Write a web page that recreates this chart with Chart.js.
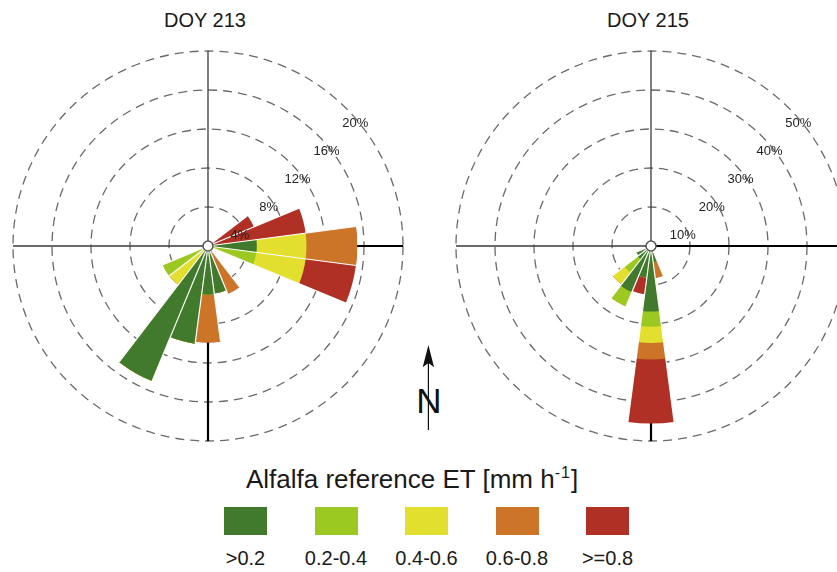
<!DOCTYPE html>
<html>
<head>
<meta charset="utf-8">
<script src="https://cdn.jsdelivr.net/npm/chart.js@4.4.1/dist/chart.umd.min.js"></script>
<style>
html, body { margin:0; padding:0; background:#fff; width:837px; height:572px; overflow:hidden; }
body { position:relative; font-family:"Liberation Sans", Arial, sans-serif; color:#1a1a1a; }
.wrap { position:absolute; top:46px; width:400px; height:400px; }
.title { position:absolute; top:10px; width:200px; font-size:20px; line-height:20px; text-align:center; }
#ltitle { position:absolute; left:212px; top:466px; width:400px; text-align:center; font-size:26px; line-height:26px; white-space:nowrap; }
#ltitle sup { font-size:16px; line-height:0; vertical-align:10px; letter-spacing:1px; }
.lbox { position:absolute; top:507px; width:43px; height:28px; }
.llab { position:absolute; top:548px; width:100px; text-align:center; font-size:20px; line-height:20px; white-space:nowrap; }
</style>
</head>
<body>
<div class="title" style="left:105px">DOY 213</div>
<div class="title" style="left:548px">DOY 215</div>
<div class="wrap" style="left:8px"><canvas id="rose213" width="400" height="400"></canvas></div>
<div class="wrap" style="left:451px"><canvas id="rose215" width="400" height="400"></canvas></div>
<svg style="position:absolute;left:410px;top:340px" width="40" height="95" viewBox="0 0 40 95">
  <text x="18.8" y="72.7" font-family="Liberation Sans, Arial, sans-serif" font-size="35" text-anchor="middle" fill="#111">N</text>
  <line x1="18.4" y1="22" x2="18.4" y2="90" stroke="#111" stroke-width="1.2"/>
  <polygon points="18.4,5 12.7,27.3 18.4,23 24.1,27.3" fill="#111"/>
</svg>
<div id="ltitle">Alfalfa reference ET [mm h<sup>-1</sup>]</div>
<div id="legend"></div>

<script>
// ---- data ----
const directions = ['0°','15°','30°','45°','60°','75°','90°','105°','120°','135°','150°','165°',
                    '180°','195°','210°','225°','240°','255°','270°','285°','300°','315°','330°','345°'];
const classes = ['>0.2', '0.2-0.4', '0.4-0.6', '0.6-0.8', '>=0.8'];

// DOY 213, percent of time per wind direction and ET class
const doy213_c1 = [0,0,0,0,0,0, 5.0,0,0,0,0,4.9, 5.0,10.1,15.0,0,0,0, 0,0,0,0,0,0];
const doy213_c2 = [0,0,0,0,0,0, 0,5.0,0,0,0,0, 0,0,0,0,5.0,0, 0,0,0,0,0,0];
const doy213_c3 = [0,0,0,0,0,0, 5.1,5.1,0,0,0,0, 0,0,0,5.0,0,0, 0,0,0,0,0,0];
const doy213_c4 = [0,0,0,0,0,0, 5.2,0,0,0,5.3,0, 4.9,0,0,0,0,0, 0,0,0,0,0,0];
const doy213_c5 = [0,0,0,0,5.1,10.1, 0,5.2,0,0,0,0, 0,0,0,0,0,0, 0,0,0,0,0,0];

// DOY 215
const doy215_c1 = [0,0,0,0,0,0, 0,0,0,0,0,4.2, 16.8,8.2,12.8,4.3,4.0,0, 0,0,0,0,0,0];
const doy215_c2 = [0,0,0,0,0,0, 0,0,0,0,0,0, 3.9,0,3.9,4.3,0,0, 0,0,0,0,0,0];
const doy215_c3 = [0,0,0,0,0,0, 0,0,0,0,0,0, 4.2,0,0,3.8,0,0, 0,0,0,0,0,0];
const doy215_c4 = [0,0,0,0,0,0, 0,0,0,0,0,4.0, 4.2,0,0,0,0,0, 0,0,0,0,0,0];
const doy215_c5 = [0,0,0,0,0,0, 0,0,0,0,0,0, 16.4,4.3,0,0,0,0, 0,0,0,0,0,0];

const ticks213 = [4, 8, 12, 16, 20];
const ticks215 = [10, 20, 30, 40, 50];

// ---- styles ----
const palette = ['#417a2c', '#9cc822', '#e2df2e', '#cc7427', '#b03026'];

const roseDecor = {
  id: 'roseDecor',
  beforeDatasetsDraw(chart) {
    const s = chart.scales.r, ctx = chart.ctx;
    const cx = s.xCenter, cy = s.yCenter, R = s.getDistanceFromCenterForValue(s.max);
    ctx.save();
    ctx.lineCap = 'butt';
    ctx.strokeStyle = '#3c3c3c'; ctx.lineWidth = 1.3;
    ctx.beginPath(); ctx.moveTo(cx, cy); ctx.lineTo(cx, cy - R); ctx.moveTo(cx, cy); ctx.lineTo(cx - R, cy); ctx.stroke();
    ctx.strokeStyle = '#000'; ctx.lineWidth = 2.2;
    ctx.beginPath(); ctx.moveTo(cx, cy); ctx.lineTo(cx + R, cy); ctx.moveTo(cx, cy); ctx.lineTo(cx, cy + R); ctx.stroke();
    ctx.restore();
  },
  afterDatasetsDraw(chart) {
    const s = chart.scales.r, ctx = chart.ctx;
    const cx = s.xCenter, cy = s.yCenter;
    ctx.save();
    // white separators between neighbouring direction wedges
    const outer = chart.getDatasetMeta(chart.data.datasets.length - 1).data;
    ctx.strokeStyle = '#ffffff'; ctx.lineWidth = 1.2;
    outer.forEach((arc, i) => {
      const prev = outer[(i - 1 + outer.length) % outer.length];
      const len = Math.max(arc.outerRadius, prev.outerRadius);
      if (len <= 0) return;
      ctx.beginPath();
      ctx.moveTo(cx, cy);
      ctx.lineTo(cx + Math.cos(arc.startAngle) * len, cy + Math.sin(arc.startAngle) * len);
      ctx.stroke();
    });
    // ring labels
    ctx.font = '13px "Liberation Sans", Arial, sans-serif';
    ctx.fillStyle = '#222';
    ctx.textAlign = 'center';
    ctx.textBaseline = 'middle';
    s.ticks.forEach(t => {
      if (t.value <= 0) return;
      const r = s.getDistanceFromCenterForValue(t.value);
      ctx.fillText(t.value + '%', cx + 0.74 * r + 3, cy - 0.715 * r + 17);
    });
    // centre marker
    ctx.beginPath();
    ctx.arc(cx, cy, 5, 0, Math.PI * 2);
    ctx.fillStyle = '#fff'; ctx.fill();
    ctx.strokeStyle = '#555'; ctx.lineWidth = 1.5; ctx.stroke();
    ctx.restore();
  }
};

function makeRose(id, series, tickVals) {
  const cum = [];
  series.forEach((arr, k) => {
    cum.push(arr.map((v, i) => v + (k ? cum[k - 1][i] : 0)));
  });
  const datasets = classes.map((c, k) => ({
    label: c,
    data: cum[k],
    backgroundColor: palette[k],
    borderColor: palette[k],
    borderWidth: 0
  }));
  const step = tickVals[1] - tickVals[0];
  new Chart(document.getElementById(id), {
    type: 'polarArea',
    data: { labels: directions, datasets },
    options: {
      responsive: false,
      animation: false,
      layout: { padding: 5 },
      plugins: { legend: { display: false }, tooltip: { enabled: false } },
      scales: {
        r: {
          min: 0,
          max: tickVals[tickVals.length - 1],
          startAngle: -7.5,
          ticks: { stepSize: step, display: false },
          grid: { circular: true, color: '#6a6a6a', lineWidth: 1.3 },
          border: { dash: [9, 6] },
          angleLines: { display: false },
          pointLabels: { display: false }
        }
      }
    },
    plugins: [roseDecor]
  });
}

makeRose('rose213', [doy213_c1, doy213_c2, doy213_c3, doy213_c4, doy213_c5], ticks213);
makeRose('rose215', [doy215_c1, doy215_c2, doy215_c3, doy215_c4, doy215_c5], ticks215);

// legend
const legend = document.getElementById('legend');
classes.forEach((c, i) => {
  const x = 224 + i * 90.5;
  const b = document.createElement('div');
  b.className = 'lbox';
  b.style.left = x + 'px';
  b.style.background = palette[i];
  legend.appendChild(b);
  const l = document.createElement('div');
  l.className = 'llab';
  l.style.left = (x + 21.5 - 50) + 'px';
  l.textContent = c;
  legend.appendChild(l);
});
</script>
</body>
</html>
